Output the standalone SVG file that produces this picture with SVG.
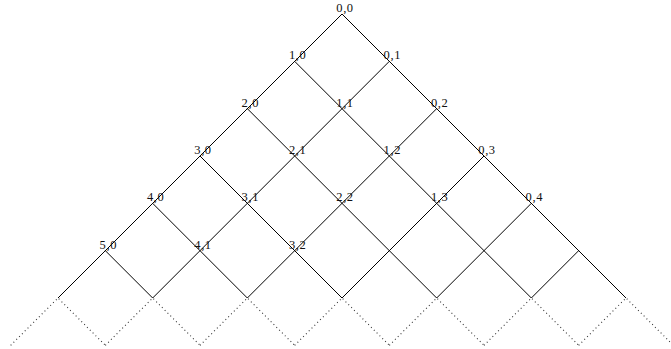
<svg xmlns="http://www.w3.org/2000/svg" width="671" height="349" viewBox="0 0 671 349">
<style>
.g{fill:none;stroke:#000;stroke-width:1}
.d{fill:none;stroke:#333;stroke-width:1.1;stroke-dasharray:1 3}
text{font-family:"Liberation Serif","Times New Roman",serif;font-size:12.5px;fill:#111;text-anchor:middle;letter-spacing:0.6px}
</style>
<rect width="671" height="349" fill="#fff"/>
<g id="connectors">
<path class="g" d="M342 14L58 298M389.33 61.33L152.67 298M436.67 108.67L247.33 298M484 156L342 298M531.33 203.33L436.67 298M578.67 250.67L531.33 298"/>
<path class="g" d="M342 14L626 298M294.67 61.33L531.33 298M247.33 108.67L436.67 298M200 156L342 298M152.67 203.33L247.33 298M105.33 250.67L152.67 298"/>
<path class="d" d="M10.67 345.33L58 298L105.33 345.33M105.33 345.33L152.67 298L200 345.33M200 345.33L247.33 298L294.67 345.33M294.67 345.33L342 298L389.33 345.33M389.33 345.33L436.67 298L484 345.33M484 345.33L531.33 298L578.67 345.33M578.67 345.33L626 298L673.33 345.33"/>
</g>
<g id="n00"><text x="345" y="12">0,0</text></g>
<g id="n10"><text x="297.7" y="59.3">1,0</text></g>
<g id="n01"><text x="392.3" y="59.3">0,1</text></g>
<g id="n20"><text x="250.3" y="106.7">2,0</text></g>
<g id="n11"><text x="345" y="106.7">1,1</text></g>
<g id="n02"><text x="439.7" y="106.7">0,2</text></g>
<g id="n30"><text x="203" y="154">3,0</text></g>
<g id="n21"><text x="297.7" y="154">2,1</text></g>
<g id="n12"><text x="392.3" y="154">1,2</text></g>
<g id="n03"><text x="487" y="154">0,3</text></g>
<g id="n40"><text x="155.7" y="201.3">4,0</text></g>
<g id="n31"><text x="250.3" y="201.3">3,1</text></g>
<g id="n22"><text x="345" y="201.3">2,2</text></g>
<g id="n13"><text x="439.7" y="201.3">1,3</text></g>
<g id="n04"><text x="534.3" y="201.3">0,4</text></g>
<g id="n50"><text x="108.3" y="248.7">5,0</text></g>
<g id="n41"><text x="203" y="248.7">4,1</text></g>
<g id="n32"><text x="297.7" y="248.7">3,2</text></g>
</svg>
